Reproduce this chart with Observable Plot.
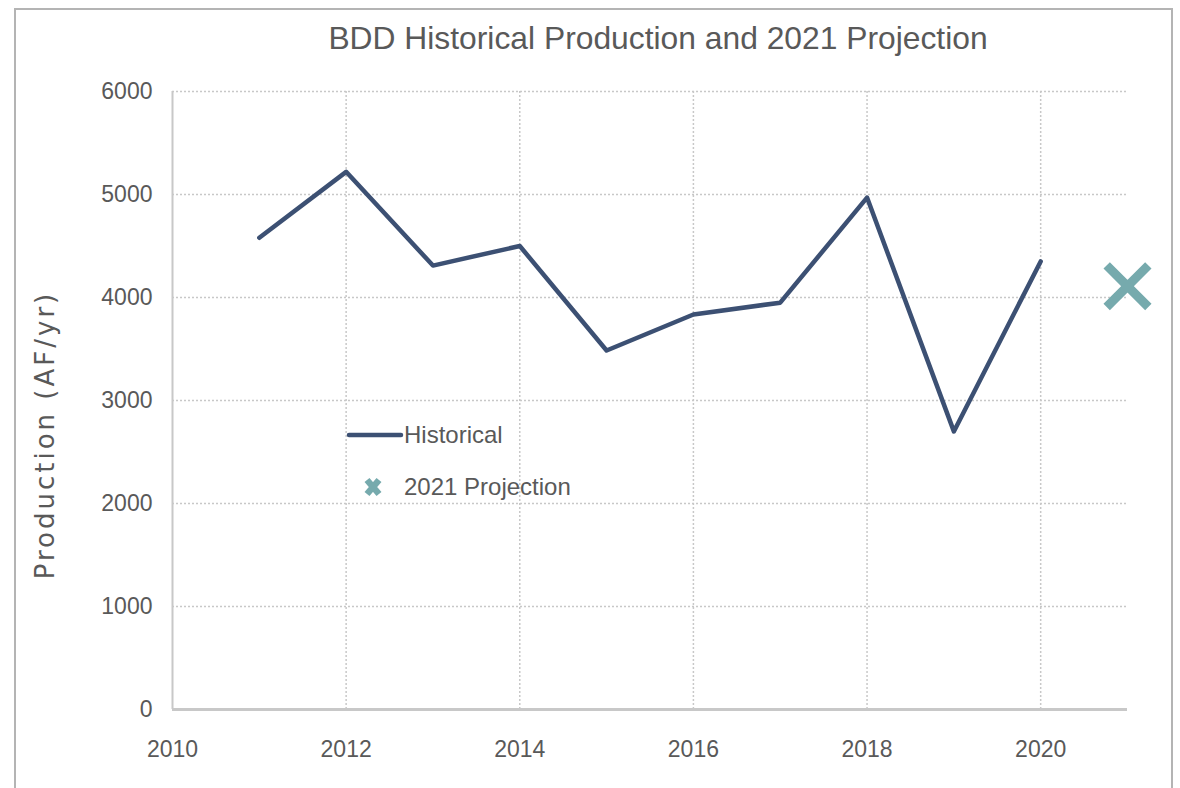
<!DOCTYPE html>
<html>
<head>
<meta charset="utf-8">
<script src="https://cdn.jsdelivr.net/npm/d3@7"></script>
<script src="https://cdn.jsdelivr.net/npm/@observablehq/plot@0.6"></script>
<style>
  html, body { margin: 0; padding: 0; background: #fff; }
  #wrap { position: relative; width: 1180px; height: 788px; overflow: hidden; font-family: "Liberation Sans Narrow", "Arial Narrow", "Liberation Sans", sans-serif; color: #595959; }
  #frame { position: absolute; left: 14px; top: 8px; width: 1159px; height: 800px; border: 2px solid #b4b4b4; box-sizing: border-box; pointer-events: none; }
  #title { position: absolute; left: 0; width: 1316px; top: 20px; text-align: center; font-size: 31.8px; }
  #ylabel { position: absolute; left: 45px; top: 435px; transform: translate(-50%, -50%) rotate(-90deg); font-family: "DejaVu Sans", sans-serif; font-size: 26px; letter-spacing: 3px; white-space: nowrap; color: #595959; }
  .leg { position: absolute; font-size: 24px; display: flex; align-items: center; white-space: nowrap; }
</style>
</head>
<body>
<div id="wrap">
  <div id="chart"></div>
  <div id="frame"></div>
  <div id="title">BDD Historical Production and 2021 Projection</div>
  <div id="ylabel">Production (AF/yr)</div>
  <div class="leg" style="left:346px; top:420px;">
    <svg width="58" height="30"><line x1="3" y1="15" x2="55" y2="15" stroke="#3C5073" stroke-width="4.5" stroke-linecap="round"/></svg>
    <span>Historical</span>
  </div>
  <div class="leg" style="left:346px; top:472px;">
    <svg width="58" height="30"><path d="M21,8 L33,22 M33,8 L21,22" stroke="#76AAAD" stroke-width="6.5"/></svg>
    <span>2021 Projection</span>
  </div>
</div>
<script>
const years = [2011, 2012, 2013, 2014, 2015, 2016, 2017, 2018, 2019, 2020];
const historical = [4580, 5220, 4310, 4500, 3485, 3835, 3950, 4970, 2700, 4350];
const projectionYear = [2021];
const projectionValue = [4110];
const xTicks = [2010, 2012, 2014, 2016, 2018, 2020];
const xGrid = [2012, 2014, 2016, 2018, 2020];
const yTicks = [0, 1000, 2000, 3000, 4000, 5000, 6000];

const hist = years.map((y, i) => ({year: y, value: historical[i]}));
const proj = projectionYear.map((y, i) => ({year: y, value: projectionValue[i]}));

const plot = Plot.plot({
  width: 1180,
  height: 788,
  marginLeft: 172,
  marginRight: 53,
  marginTop: 91,
  marginBottom: 79,
  style: {fontFamily: '"Liberation Sans Narrow", "Arial Narrow", "Liberation Sans", sans-serif', fontSize: "23px", color: "#595959", background: "transparent"},
  x: {domain: [2010, 2021]},
  y: {domain: [0, 6000]},
  marks: [
    Plot.gridY(yTicks.filter(d => d > 0), {stroke: "#c8c8c8", strokeOpacity: 1, strokeDasharray: "2,2", strokeWidth: 1.5}),
    Plot.gridX(xGrid, {stroke: "#c8c8c8", strokeOpacity: 1, strokeDasharray: "2,2", strokeWidth: 1.5}),
    Plot.ruleX([2010], {stroke: "#c8c8c8", strokeWidth: 2}),
    Plot.ruleY([0], {stroke: "#c8c8c8", strokeWidth: 3}),
    Plot.axisY(yTicks, {tickSize: 0, tickPadding: 20, label: null, tickFormat: d => String(d), fill: "#595959", fontSize: 23}),
    Plot.axisX(xTicks, {tickSize: 0, tickPadding: 31, label: null, tickFormat: d => String(d), fill: "#595959", fontSize: 23}),
    Plot.line(hist, {x: "year", y: "value", stroke: "#3C5073", strokeWidth: 4.5, strokeLinejoin: "round"}),
    Plot.dot(proj, {x: "year", y: "value", symbol: "times", r: 19, stroke: "#76AAAD", strokeWidth: 9})
  ]
});
document.getElementById("chart").appendChild(plot);
</script>
</body>
</html>
